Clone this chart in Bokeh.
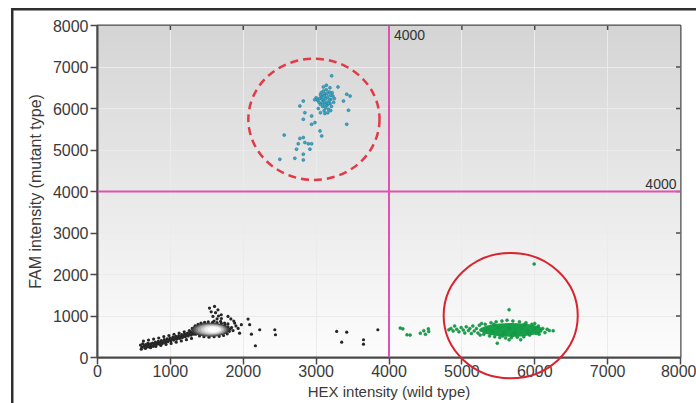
import numpy as np
from bokeh.plotting import figure
from bokeh.models import Span, Label, FixedTicker, Range1d
from bokeh.embed import file_html
from bokeh.resources import INLINE

# ---------------- data ----------------
x_ticks = [0, 1000, 2000, 3000, 4000, 5000, 6000, 7000, 8000]
y_ticks = [0, 1000, 2000, 3000, 4000, 5000, 6000, 7000, 8000]
threshold = 4000
x_title = "HEX intensity (wild type)"
y_title = "FAM intensity (mutant type)"

# no-template / background droplets (black)
black_x = [590, 610, 620, 640, 650, 660, 680, 690, 700, 715, 725, 740, 755, 765, 780, 795, 805, 820,
           835, 850, 860, 875, 890, 900, 915, 930, 940, 955, 965, 980, 995, 1005, 1020, 1035, 1045,
           1060, 1075, 1085, 1100, 1115, 1125, 1140, 1155, 1165, 1180, 1195, 1205, 1220, 1235, 1245,
           1260, 1275, 1285, 1300, 1310, 1320, 1335,
           600, 630, 660, 700, 730, 770, 800, 840, 870, 910, 940, 980, 1010, 1050, 1080, 1120, 1150,
           1190, 1220, 1260, 1290,
           1300, 1340, 1380, 1420, 1470, 1520, 1580, 1640, 1700, 1750, 1790, 1820, 1810, 1780, 1730,
           1670, 1600, 1530, 1460, 1400, 1350, 1320, 1840, 1860, 1790, 1690, 1600,
           1537, 1606, 1653, 1584, 1698, 1791, 1744, 1882, 2066, 1974, 2088, 1950, 2112, 2226, 2433,
           2442, 2167, 1620, 1660, 1560, 1700, 1640, 1900, 1930, 1870, 1830,
           3282, 3420, 3351, 3650, 3650, 3847]
black_y = [300, 250, 330, 280, 230, 310, 260, 340, 300, 250, 330, 290, 350, 270, 320, 370, 300, 340,
           390, 320, 360, 410, 340, 380, 430, 360, 400, 450, 380, 420, 470, 400, 440, 490, 420,
           460, 510, 440, 480, 530, 460, 500, 550, 480, 520, 570, 500, 540, 590, 520,
           560, 610, 540, 580, 630, 560, 600,
           200, 395, 220, 420, 240, 445, 265, 470, 290, 505, 315, 530, 340, 560, 370, 590, 400,
           620, 430, 650, 460,
           700, 760, 800, 830, 850, 860, 850, 840, 820, 790, 740, 690, 630, 570, 530,
           510, 500, 490, 500, 520, 560, 640, 720, 650, 810, 870, 880,
           1190, 1230, 1150, 990, 1030, 990, 830, 830, 925, 790, 790, 587, 563, 669, 669,
           548, 283, 1080, 1000, 1100, 940, 930, 760, 700, 880, 930,
           628, 611, 370, 428, 321, 669]

# dense core of the black cluster (density shading, outer to inner)
core_x = [1545, 1550, 1555, 1560, 1570, 1580, 1590]
core_y = [668, 668, 670, 670, 672, 672, 674]
core_w = [520, 470, 420, 365, 305, 240, 170]
core_h = [340, 310, 280, 245, 210, 170, 125]
core_shade = ["#3a3a3a", "#5e5e5e", "#858585", "#ababab", "#cfcfcf", "#ececec", "#fdfdfd"]

# wild-type droplets (green)
green_x = [4154, 4190, 4247, 4290, 4430, 4477, 4545, 4500, 4540, 4821,
           5992, 5648, 5486, 5648, 5807, 6253,
           4850, 4880, 4900, 4930, 4960, 4990, 5020, 5040, 5060, 5090, 5110, 5130, 5150, 5170,
           5200, 5220, 5240, 5260,
           5300, 5320, 5350, 5380, 5400, 5420, 5450, 5470, 5500, 5520, 5550, 5580, 5600, 5620,
           5650, 5680, 5700, 5730, 5760, 5790, 5820, 5850, 5880, 5900, 5930, 5960, 5990, 6020,
           6050, 6080, 6110, 6140, 6170, 6200, 5250, 5270, 5560, 5440, 5700, 5860, 6000, 6060]
green_y = [708, 690, 548, 540, 587, 645, 628, 560, 690, 669,
           2254, 1152, 345, 428, 428, 645,
           700, 640, 760, 680, 620, 720, 660, 590, 740, 650, 700, 580, 760, 640,
           700, 590, 780, 660,
           560, 800, 680, 520, 840, 620, 500, 860, 720, 480, 880, 600, 470, 900,
           700, 480, 880, 600, 490, 860, 720, 500, 840, 640, 540, 800, 690, 580,
           760, 640, 700, 600, 680, 650, 540, 820, 520, 800, 540, 800, 820, 560]
green_core_x = [5680]
green_core_y = [665]
green_core_w = [860]
green_core_h = [330]

# mutant droplets (blue)
blue_x = [3050, 3080, 3100, 3120, 3140, 3160, 3180, 3200, 3060, 3090, 3110, 3130, 3150, 3170, 3190,
          3210, 3230, 3020, 3040, 3070, 3100, 3140, 3180, 3220, 3240, 3030, 3060, 3120, 3160, 3200,
          3000, 3090, 3130, 3170, 3110, 3150, 3080, 3200, 3060, 3120, 2980, 3250, 3190, 3140, 3100,
          3213, 3300, 3420, 3466, 3375, 3444, 3420, 2824, 2777, 2846, 2824, 2938, 2984, 3053, 3076,
          2938, 2562, 2777, 2824, 2755, 2846, 2893, 2938, 2915, 2731, 2824, 2708, 2824, 2502]
blue_y = [6250, 6300, 6200, 6350, 6150, 6280, 6400, 6220, 6100, 6050, 5950, 6020, 6080, 5980, 6120,
          6050, 6300, 6200, 6150, 6380, 6420, 6450, 6200, 6380, 6150, 6000, 5900, 5880, 5900, 5950,
          6260, 6140, 6240, 6120, 6300, 6360, 6220, 6320, 6330, 6100, 6210, 6240, 6500, 6560, 6520,
          6787, 6520, 6345, 6300, 6180, 5960, 5620, 6180, 6060, 5900, 5740, 5620, 5660, 5460, 5340,
          5820, 5360, 5280, 5300, 5150, 5180, 5150, 5150, 5020, 5020, 4900, 4800, 4760, 4775]

# highlight rings (centre, width, height in data units)
mut_ring = dict(x=[2970], y=[5740], w=[1800], h=[2920])
wt_ring = dict(x=[5670], y=[1010], w=[1840], h=[3020])

# ---------------- figure ----------------
FONT = "Liberation Sans"
TXT = "#3a3a3a"
FRAME = "#4a4a4a"

p = figure(width=696, height=403, output_backend="svg", toolbar_location=None,
           x_range=Range1d(x_ticks[0], x_ticks[-1]), y_range=Range1d(y_ticks[0], y_ticks[-1]),
           min_border_left=97, min_border_top=25, min_border_right=16, min_border_bottom=46,
           border_fill_color=None, background_fill_color="white",
           outline_line_color=FRAME, outline_line_width=2)
# outer picture frame (left and top edges) painted behind the transparent canvas border
p.styles = {
    "background-color": "#ffffff",
    "background-image": "linear-gradient(#2e2e2e, #2e2e2e), linear-gradient(#2e2e2e, #2e2e2e)",
    "background-position": "11px 8px, 11px 8px",
    "background-size": "2.5px 400px, 690px 2.5px",
    "background-repeat": "no-repeat, no-repeat",
}

# grey-to-white background gradient inside the frame
n = 256
shade = np.linspace(253, 213, n).astype(np.uint8)
img = np.empty((n, 1), dtype=np.uint32)
view = img.view(dtype=np.uint8).reshape((n, 1, 4))
view[:, 0, 0] = shade
view[:, 0, 1] = shade
view[:, 0, 2] = shade
view[:, 0, 3] = 255
p.image_rgba(image=[img], x=x_ticks[0], y=y_ticks[0],
             dw=x_ticks[-1] - x_ticks[0], dh=y_ticks[-1] - y_ticks[0], level="image")

for ax, ticks in ((p.xaxis, x_ticks), (p.yaxis, y_ticks)):
    ax.ticker = FixedTicker(ticks=ticks)
    ax.major_tick_out = 7
    ax.major_tick_in = 0
    ax.minor_tick_out = 0
    ax.minor_tick_in = 0
    ax.axis_line_color = FRAME
    ax.axis_line_width = 2
    ax.major_tick_line_color = FRAME
    ax.major_tick_line_width = 1.5
    ax.major_label_text_font = FONT
    ax.major_label_text_font_size = "16px"
    ax.major_label_text_color = TXT
    ax.axis_label_text_font = FONT
    ax.axis_label_text_font_style = "normal"
    ax.axis_label_text_color = TXT

p.yaxis.major_label_standoff = 2
p.yaxis.axis_label = y_title
p.yaxis.axis_label_text_font_size = "16px"
p.yaxis.axis_label_standoff = 6

p.xaxis.major_label_standoff = 0
p.xaxis.axis_label = x_title
p.xaxis.axis_label_text_font_size = "15px"
p.xaxis.axis_label_standoff = 3

p.grid.grid_line_color = "#ebebeb"
p.grid.grid_line_width = 1

# short inward ticks on the top and right edges of the frame (half of each dash is clipped)
p.scatter(x=x_ticks[1:-1], y=[y_ticks[-1]] * (len(x_ticks) - 2), marker="dash", angle=np.pi / 2,
          size=9, line_color=FRAME, line_width=1.5)
p.scatter(x=[x_ticks[-1]] * (len(y_ticks) - 2), y=y_ticks[1:-1], marker="dash",
          size=9, line_color=FRAME, line_width=1.5)

# droplets
p.scatter(black_x, black_y, size=3.2, marker="circle", fill_color="#262626", line_color=None)
p.ellipse(x=core_x, y=core_y, width=core_w, height=core_h, fill_color=core_shade, line_color=None)
p.ellipse(x=green_core_x, y=green_core_y, width=green_core_w, height=green_core_h,
          fill_color="#17a04a", line_color=None)
p.scatter(green_x, green_y, size=3, marker="circle", fill_color="#18a04c", line_color="#128a3e",
          line_width=0.5)
p.scatter(blue_x, blue_y, size=3, marker="circle", fill_color="#38a8c8", line_color="#1f6f88",
          line_width=0.5)

# rings
p.ellipse(x=mut_ring["x"], y=mut_ring["y"], width=mut_ring["w"], height=mut_ring["h"],
          fill_color=None, line_color="#e23a48", line_width=2.5, line_dash="8 5")
p.ellipse(x=wt_ring["x"], y=wt_ring["y"], width=wt_ring["w"], height=wt_ring["h"],
          fill_color=None, line_color="#d8242e", line_width=2, level="overlay")

# thresholds
p.add_layout(Span(location=threshold, dimension="height", line_color="#e052b0", line_width=2))
p.add_layout(Span(location=threshold, dimension="width", line_color="#e052b0", line_width=2))
p.add_layout(Label(x=threshold, y=y_ticks[-1], text=str(threshold), x_offset=5, y_offset=-4,
                   text_baseline="top", text_font=FONT, text_font_size="14px", text_color="#333333"))
p.add_layout(Label(x=x_ticks[-1], y=threshold, text=str(threshold), x_offset=-4, y_offset=3,
                   text_align="right", text_baseline="bottom", text_font=FONT,
                   text_font_size="14px", text_color="#333333"))

open("out.html", "w").write(file_html(p, INLINE, title="ddPCR"))
